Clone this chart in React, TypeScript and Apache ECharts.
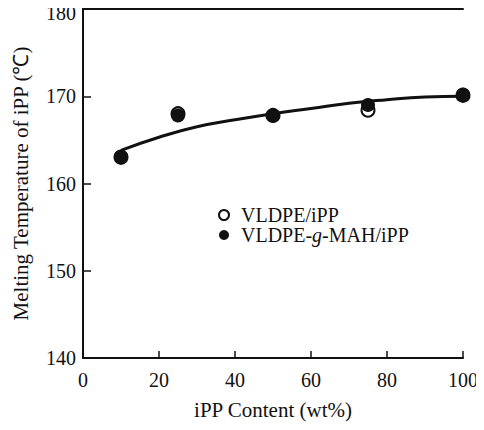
import React, { useEffect, useRef } from "react";
import * as echarts from "echarts";

const xTicks = [0, 20, 40, 60, 80, 100];
const ippContent = [10, 25, 50, 75, 100];
const vldpeIpp = [163.0, 168.0, 167.8, 168.4, 170.1];
const vldpeGMahIpp = [163.1, 167.8, 167.8, 169.0, 170.2];
const fitX = [10, 20, 30, 40, 50, 60, 70, 80, 90, 100];
const fitY = [163.8, 165.3, 166.5, 167.3, 168.0, 168.6, 169.2, 169.6, 169.9, 170.0];

const FONT = "Liberation Serif";

export default function App() {
  const ref = useRef<HTMLDivElement>(null);
  useEffect(() => {
    if (!ref.current) return;
    const chart = echarts.init(ref.current, null, { renderer: "svg" });
    const axisLine = { show: true, lineStyle: { color: "#111", width: 2 } };
    chart.setOption({
      animation: false,
      backgroundColor: "#fff",
      grid: { left: 83, right: 21, top: 9, bottom: 72 },
      legend: {
        orient: "vertical",
        left: 213,
        top: 200,
        itemWidth: 24,
        itemHeight: 10,
        itemGap: 0,
        data: ["VLDPE/iPP", "VLDPE-g-MAH/iPP"],
        formatter: (name: string) =>
          name === "VLDPE-g-MAH/iPP" ? "VLDPE-{i|g}-MAH/iPP" : name,
        textStyle: {
          fontFamily: FONT,
          fontSize: 20,
          color: "#111",
          rich: { i: { fontFamily: FONT, fontSize: 20, fontStyle: "italic", color: "#111" } },
        },
      },
      xAxis: [
        {
          type: "value",
          min: 0,
          max: 100,
          interval: 20,
          position: "bottom",
          name: "iPP Content (wt%)",
          nameLocation: "middle",
          nameGap: 41,
          nameTextStyle: { fontFamily: FONT, fontSize: 21, color: "#111" },
          axisLine,
          axisTick: { show: true, inside: true, length: 7, lineStyle: { color: "#111", width: 1.5 } },
          axisLabel: { fontFamily: FONT, fontSize: 20, color: "#111", margin: 12 },
          splitLine: { show: false },
        },
        {
          type: "value",
          min: 0,
          max: 100,
          position: "top",
          axisLine,
          axisTick: { show: false },
          axisLabel: { show: false },
          splitLine: { show: false },
        },
      ],
      yAxis: [
        {
          type: "value",
          min: 140,
          max: 180,
          interval: 10,
          position: "left",
          name: "Melting Temperature of iPP (\u2103)",
          nameLocation: "middle",
          nameGap: 52,
          nameTextStyle: { fontFamily: FONT, fontSize: 21, color: "#111" },
          axisLine,
          axisTick: { show: true, inside: true, length: 8, lineStyle: { color: "#111", width: 1.5 } },
          axisLabel: {
            fontFamily: FONT,
            fontSize: 20,
            color: "#111",
            margin: 7,
            formatter: (v: number) => (v === 180 ? "{t|180}" : String(v)),
            rich: { t: { fontFamily: FONT, fontSize: 20, color: "#111", padding: [8, 0, 0, 0] } },
          },
          splitLine: { show: false },
        },
        {
          type: "value",
          min: 140,
          max: 180,
          position: "right",
          axisLine,
          axisTick: { show: false },
          axisLabel: { show: false },
          splitLine: { show: false },
        },
      ],
      series: [
        {
          name: "fit",
          type: "line",
          smooth: true,
          symbol: "none",
          data: fitX.map((x, i) => [x, fitY[i]]),
          lineStyle: { color: "#111", width: 3 },
          z: 1,
        },
        {
          name: "VLDPE/iPP",
          type: "scatter",
          symbol: "circle",
          symbolSize: 13,
          data: ippContent.map((x, i) => [x, vldpeIpp[i]]),
          itemStyle: { color: "#fff", borderColor: "#111", borderWidth: 2, opacity: 1 },
          z: 2,
        },
        {
          name: "VLDPE-g-MAH/iPP",
          type: "scatter",
          symbol: "circle",
          symbolSize: 14,
          data: ippContent.map((x, i) => [x, vldpeGMahIpp[i]]),
          itemStyle: { color: "#111", opacity: 1 },
          z: 3,
        },
      ],
    });
    return () => chart.dispose();
  }, []);
  return <div ref={ref} style={{ width: 484, height: 430, margin: -8 }} />;
}
